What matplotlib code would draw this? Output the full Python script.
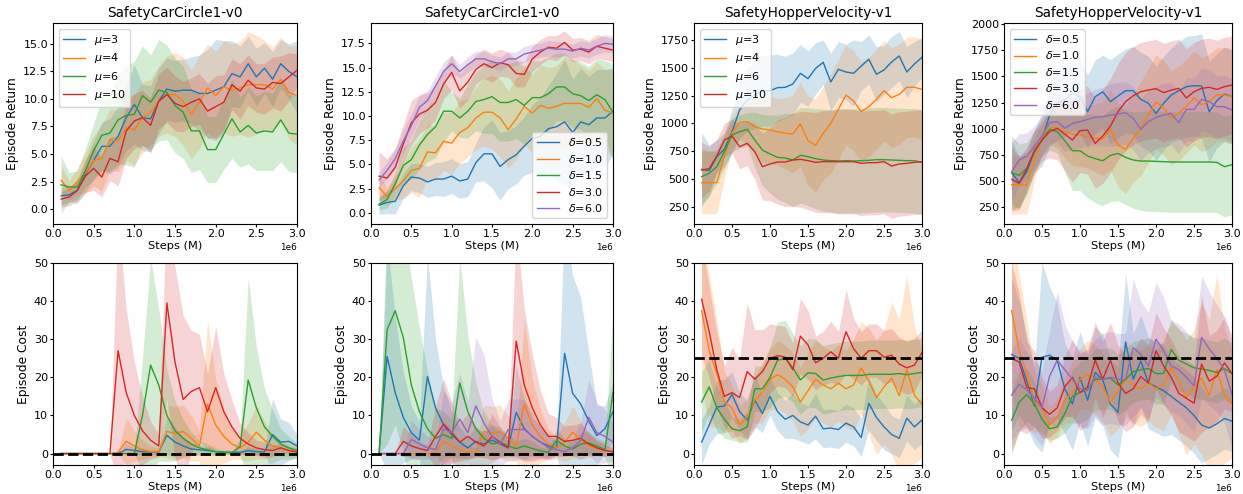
import numpy as np
import matplotlib
matplotlib.use("Agg")
import matplotlib.pyplot as plt  # noqa: E402

# x axis: evaluation points every 0.1M steps
steps = np.arange(1, 31) * 1e5

mu_labels = [r"$\mu$=3", r"$\mu$=4", r"$\mu$=6", r"$\mu$=10"]
delta_labels = [r"$\delta$=0.5", r"$\delta$=1.0", r"$\delta$=1.5", r"$\delta$=3.0", r"$\delta$=6.0"]
mu_colors = ["tab:blue", "tab:orange", "tab:green", "tab:red"]
delta_colors = ["tab:blue", "tab:orange", "tab:green", "tab:red", "tab:purple"]

# ---- SafetyCarCircle1-v0, episode return ----
car_ret_base = [2.6, 1.7, 2.5, 3.3, 4.4, 4.6, 6.3, 6.2, 7.4, 7.2, 8.3, 8.8, 9.8, 10.4, 10.4,
                9.8, 8.6, 9.7, 11.0, 10.3, 11.1, 10.8, 11.0, 11.3, 11.3, 11.3, 10.9, 11.8, 10.6, 10.3]
car_ret_base_sd = [1.3, 0.9, 1.2, 1.8, 2.3, 3.0, 2.8, 2.8, 3.0, 3.2, 3.2, 3.0, 3.2, 3.5, 3.8,
                   4.0, 4.0, 4.2, 4.0, 4.0, 4.2, 4.2, 4.2, 4.8, 4.5, 4.0, 3.8, 3.8, 4.2, 4.5]

car_ret_mu = [
    [1.2, 1.3, 1.7, 3.2, 4.4, 5.7, 5.7, 6.6, 8.3, 9.5, 8.3, 8.2, 9.8, 10.9, 10.7,
     10.8, 10.8, 10.5, 10.5, 10.8, 11.1, 12.3, 12.0, 13.2, 12.0, 12.8, 11.8, 13.2, 12.5, 12.0],
    car_ret_base,
    [2.2, 2.0, 2.0, 3.5, 5.3, 6.7, 6.9, 8.1, 8.5, 8.6, 10.3, 9.7, 10.8, 10.6, 9.4,
     8.8, 7.1, 7.1, 5.4, 5.4, 6.8, 8.2, 7.0, 7.6, 6.9, 7.1, 7.0, 8.1, 6.9, 6.8],
    [0.9, 1.1, 1.7, 3.0, 3.7, 2.9, 4.6, 4.3, 7.1, 8.0, 8.3, 7.6, 9.8, 10.4, 9.6,
     9.3, 9.7, 10.0, 8.9, 9.3, 9.7, 11.3, 10.7, 11.7, 11.0, 10.9, 11.5, 11.4, 12.0, 12.6],
]
car_ret_mu_sd = [
    [0.8, 0.7, 0.8, 1.2, 1.8, 2.2, 2.5, 2.8, 3.0, 3.6, 3.0, 3.0, 3.0, 2.8, 2.8,
     2.8, 3.0, 3.5, 4.0, 4.6, 4.2, 3.0, 2.8, 2.5, 2.6, 2.3, 2.5, 2.2, 2.5, 3.3],
    car_ret_base_sd,
    [2.6, 1.3, 1.5, 2.0, 2.5, 3.2, 3.5, 4.0, 4.5, 4.8, 4.5, 4.3, 4.6, 4.3, 4.3,
     4.2, 3.8, 3.5, 3.0, 3.0, 3.2, 3.6, 3.2, 3.5, 3.4, 3.6, 3.5, 3.8, 3.5, 3.5],
    [0.7, 0.8, 1.0, 1.5, 2.0, 1.8, 2.0, 2.2, 2.5, 2.5, 2.5, 2.5, 2.5, 2.5, 2.5,
     2.3, 2.2, 2.3, 2.5, 2.8, 2.5, 2.3, 2.5, 2.3, 2.2, 2.3, 2.3, 2.5, 2.2, 1.5],
]

car_ret_delta = [
    [0.8, 1.1, 1.2, 2.8, 3.7, 3.6, 3.2, 3.5, 3.5, 3.8, 3.3, 3.5, 5.2, 6.1, 6.1,
     4.8, 5.5, 6.0, 6.9, 7.7, 7.9, 8.7, 8.9, 9.4, 8.3, 9.4, 9.1, 9.8, 9.8, 10.5],
    car_ret_base,
    [0.9, 1.4, 3.0, 4.9, 5.5, 7.0, 8.1, 8.9, 10.5, 10.5, 9.8, 10.5, 11.5, 11.7, 12.0,
     11.4, 11.4, 11.7, 11.1, 11.9, 11.9, 12.3, 13.0, 13.0, 12.3, 12.1, 11.6, 12.2, 11.7, 10.4],
    [3.8, 3.6, 4.7, 7.1, 9.3, 10.2, 10.6, 11.4, 13.3, 14.5, 12.6, 13.5, 14.8, 15.4, 15.0,
     15.5, 15.3, 14.4, 14.3, 15.9, 16.6, 17.1, 17.0, 17.6, 16.8, 16.9, 16.6, 17.2, 17.0, 16.8],
    [3.4, 4.4, 5.6, 7.4, 9.0, 10.9, 11.6, 13.1, 14.6, 15.4, 14.6, 15.3, 15.9, 15.9, 15.6,
     15.4, 15.9, 15.9, 16.4, 16.6, 16.8, 17.0, 16.9, 16.9, 16.7, 17.0, 16.8, 17.2, 17.5, 17.4],
]
car_ret_delta_sd = [
    [0.9, 1.2, 1.3, 1.3, 1.4, 1.5, 1.6, 1.7, 1.8, 1.8, 1.8, 1.8, 2.0, 2.8, 3.5,
     3.5, 3.0, 3.0, 3.0, 3.5, 4.0, 4.5, 5.5, 6.5, 5.5, 5.5, 5.0, 5.0, 5.0, 4.5],
    car_ret_base_sd,
    [0.6, 0.9, 1.2, 1.8, 2.0, 2.5, 2.8, 3.2, 3.2, 2.0, 2.0, 2.8, 3.0, 3.5, 3.8,
     4.0, 4.0, 4.0, 4.0, 3.8, 3.8, 3.8, 3.5, 3.5, 3.5, 3.5, 3.5, 3.8, 4.0, 5.0],
    [2.5, 2.0, 2.0, 2.0, 2.3, 2.0, 1.8, 1.8, 1.5, 1.8, 1.8, 1.8, 1.5, 1.5, 1.5,
     1.4, 1.3, 1.4, 1.3, 1.3, 1.3, 1.2, 1.3, 1.2, 1.2, 1.2, 1.2, 1.2, 1.2, 1.2],
    [0.8, 0.9, 1.0, 1.2, 1.2, 1.2, 1.0, 1.0, 1.0, 0.9, 0.7, 0.8, 0.8, 0.8, 0.7,
     0.7, 0.7, 0.7, 0.8, 0.8, 0.7, 0.8, 0.8, 0.7, 0.7, 0.8, 0.8, 0.8, 0.9, 0.9],
]

# ---- SafetyHopperVelocity-v1, episode return ----
hop_ret_base = [466, 466, 466, 706, 916, 1006, 1015, 970, 949, 940, 925, 910, 904, 994, 844,
                802, 910, 1000, 1126, 1255, 1201, 1105, 1150, 1216, 1294, 1231, 1261, 1324, 1324, 1306]
hop_ret_base_sd = [280, 280, 280, 200, 150, 150, 200, 250, 300, 300, 300, 320, 350, 380, 400,
                   420, 420, 450, 450, 450, 450, 450, 450, 450, 450, 450, 450, 450, 450, 450]

hop_ret_mu = [
    [586, 574, 700, 766, 925, 1120, 1210, 1255, 1294, 1294, 1321, 1324, 1354, 1450, 1402,
     1495, 1549, 1372, 1486, 1462, 1450, 1516, 1576, 1441, 1480, 1552, 1606, 1462, 1534, 1594],
    hop_ret_base,
    [520, 550, 610, 745, 895, 925, 946, 850, 760, 724, 694, 688, 670, 712, 700,
     682, 670, 664, 661, 664, 661, 664, 667, 673, 673, 670, 667, 664, 664, 649],
    [580, 592, 706, 850, 886, 790, 820, 745, 610, 634, 652, 652, 670, 676, 664,
     649, 655, 655, 655, 655, 655, 640, 646, 646, 655, 616, 634, 640, 649, 655],
]
hop_ret_mu_sd = [
    [330, 230, 150, 150, 200, 250, 280, 300, 320, 320, 300, 280, 280, 260, 250,
     230, 200, 260, 250, 250, 300, 220, 220, 250, 220, 230, 220, 230, 200, 180],
    hop_ret_base_sd,
    [250, 200, 150, 150, 150, 150, 150, 250, 320, 350, 380, 400, 420, 430, 440,
     450, 460, 460, 470, 470, 470, 470, 470, 470, 470, 470, 470, 470, 470, 470],
    [250, 200, 150, 150, 150, 200, 200, 250, 300, 330, 380, 400, 420, 430, 440,
     450, 460, 460, 470, 470, 470, 470, 470, 470, 470, 470, 470, 470, 470, 470],
]

hop_ret_delta = [
    [581, 485, 590, 781, 893, 1131, 1243, 1275, 1338, 1306, 1163, 1306, 1354, 1259, 1313,
     1364, 1364, 1281, 1243, 1147, 1243, 1322, 1364, 1402, 1411, 1408, 1163, 1268, 1332, 1306],
    hop_ret_base,
    [581, 555, 622, 781, 893, 995, 972, 886, 791, 791, 740, 715, 695, 746, 765,
     727, 702, 692, 692, 689, 686, 683, 683, 683, 683, 683, 683, 680, 638, 657],
    [517, 479, 622, 791, 893, 972, 1004, 950, 893, 982, 988, 861, 931, 1026, 1163,
     1259, 1316, 1354, 1370, 1383, 1345, 1370, 1386, 1294, 1354, 1386, 1396, 1376, 1402, 1418],
    [590, 702, 740, 829, 931, 1058, 1068, 1004, 1052, 1068, 1090, 1109, 1115, 1131, 1141,
     1154, 1100, 995, 1068, 1109, 1131, 1147, 1058, 1185, 1185, 1281, 1259, 1211, 1211, 1179],
]
hop_ret_delta_sd = [
    [300, 250, 200, 200, 250, 300, 350, 350, 350, 350, 350, 350, 350, 400, 400,
     400, 420, 450, 450, 450, 450, 450, 470, 480, 480, 500, 480, 450, 450, 450],
    hop_ret_base_sd,
    [350, 300, 250, 200, 150, 200, 200, 300, 380, 380, 400, 420, 430, 440, 450,
     450, 460, 470, 480, 480, 480, 480, 480, 480, 480, 480, 480, 480, 480, 480],
    [300, 250, 200, 200, 200, 250, 300, 350, 400, 400, 420, 430, 450, 450, 460,
     470, 470, 470, 470, 470, 470, 470, 470, 470, 470, 470, 470, 470, 470, 470],
    [280, 250, 220, 200, 200, 200, 200, 220, 250, 250, 250, 270, 280, 300, 300,
     300, 300, 300, 300, 300, 300, 300, 300, 300, 300, 300, 300, 300, 300, 300],
]

# ---- SafetyCarCircle1-v0, episode cost ----
car_cost_base = [0, 0, 0, 0, 0, 0, 0, 0.3, 3.2, 2.0, 1.0, 0.5, 0.4, 5.8, 5.3,
                 5.8, 4.0, 2.0, 13.0, 7.5, 4.5, 2.5, 1.5, 3.0, 5.6, 3.5, 2.0, 1.3, 0.8, 0.5]
car_cost_base_sd = [0, 0, 0, 0, 0, 0, 0, 0.5, 6.0, 4.0, 2.5, 1.5, 1.0, 7.0, 7.0,
                    7.0, 6.0, 4.0, 22.0, 12.0, 7.0, 4.0, 3.0, 5.0, 7.0, 5.0, 3.0, 2.0, 1.5, 1.0]

car_cost_mu = [
    [0, 0, 0, 0, 0, 0, 0, 0, 1.1, 0.8, 0.5, 0.4, 0.4, 4.8, 3.0,
     2.0, 1.2, 1.0, 0.8, 0.5, 0.4, 0.3, 0.3, 0.8, 0.5, 0.4, 5.0, 3.0, 3.2, 2.0],
    car_cost_base,
    [0, 0, 0, 0, 0, 0, 0, 0, 0, 0, 10.0, 23.2, 18.0, 10.0, 6.0,
     4.0, 2.5, 1.5, 1.0, 0.5, 0.3, 0.2, 1.8, 19.3, 12.0, 7.0, 4.5, 2.5, 1.5, 0.8],
    [0, 0, 0, 0, 0, 0, 0, 27.0, 16.0, 10.0, 6.0, 3.5, 2.0, 39.5, 24.0,
     14.2, 16.3, 17.3, 11.0, 17.3, 11.0, 7.0, 4.0, 2.5, 1.5, 1.0, 0.8, 1.5, 0.8, 0.4],
]
car_cost_mu_sd = [
    [0, 0, 0, 0, 0, 0, 0, 0, 1.5, 1.0, 0.8, 0.6, 0.6, 5.0, 4.0,
     2.5, 1.5, 1.2, 1.0, 0.8, 0.6, 0.5, 0.5, 1.0, 0.8, 0.6, 9.5, 6.0, 5.0, 3.0],
    car_cost_base_sd,
    [0, 0, 0, 0, 0, 0, 0, 0, 0, 0, 15.0, 28.0, 20.0, 12.0, 8.0,
     5.0, 3.0, 2.0, 1.5, 1.0, 0.5, 0.5, 2.0, 27.0, 16.0, 10.0, 7.0, 4.0, 3.0, 2.0],
    [0, 0, 0, 0, 0, 0, 0, 35.0, 22.0, 14.0, 9.0, 5.0, 3.0, 25.0, 25.0,
     22.0, 16.0, 14.0, 10.0, 16.0, 10.0, 7.0, 4.0, 3.0, 2.0, 2.0, 1.5, 1.0, 1.0, 1.0],
]

car_cost_delta = [
    [0, 25.5, 16.0, 9.5, 5.5, 3.5, 20.2, 12.0, 7.5, 5.0, 3.0, 1.5, 3.2, 2.5, 3.5,
     2.5, 1.5, 10.8, 6.5, 4.5, 3.0, 2.0, 1.5, 26.3, 15.8, 13.0, 8.5, 4.7, 6.5, 11.0],
    car_cost_base,
    [0, 32.5, 37.5, 30.5, 18.0, 11.0, 6.5, 4.0, 5.0, 4.0, 18.5, 11.0, 6.5, 4.0, 2.5,
     3.0, 2.0, 1.3, 2.0, 1.3, 0.7, 0.3, 3.5, 2.0, 1.2, 2.5, 2.8, 2.0, 1.0, 16.0],
    [0, 0, 0, 3.2, 2.0, 1.3, 0.8, 4.5, 7.7, 5.5, 3.0, 4.5, 3.0, 2.0, 4.5,
     3.0, 1.5, 29.5, 18.0, 12.0, 7.5, 4.5, 4.5, 3.2, 3.5, 4.0, 2.5, 1.5, 0.8, 0.5],
    [0, 0, 0, 0, 3.7, 2.5, 1.5, 1.0, 6.5, 5.5, 9.0, 5.5, 12.5, 8.0, 4.5,
     2.5, 6.3, 6.3, 6.3, 4.5, 3.0, 1.5, 1.0, 0.5, 1.5, 3.5, 9.5, 5.5, 4.5, 3.0],
]
car_cost_delta_sd = [
    [0, 30.0, 20.0, 12.0, 7.0, 5.0, 32.0, 18.0, 10.0, 6.0, 4.0, 3.0, 4.0, 3.0, 4.0,
     3.0, 2.0, 12.0, 8.0, 5.0, 4.0, 3.0, 2.0, 35.0, 31.0, 28.0, 18.0, 8.0, 6.0, 8.0],
    car_cost_base_sd,
    [0, 30.0, 30.0, 30.0, 28.0, 22.0, 15.0, 8.0, 6.0, 5.0, 33.0, 20.0, 12.0, 7.0, 5.0,
     4.0, 3.0, 2.0, 2.0, 2.0, 1.0, 1.0, 3.0, 2.0, 2.0, 3.0, 3.0, 2.0, 2.0, 22.0],
    [0, 0, 0, 4.0, 3.0, 2.0, 1.5, 8.0, 12.0, 8.0, 5.0, 6.0, 4.0, 3.0, 6.0,
     4.0, 2.0, 30.0, 20.0, 14.0, 9.0, 6.0, 5.0, 4.0, 4.0, 4.0, 3.0, 2.0, 1.5, 1.0],
    [0, 0, 0, 0, 5.0, 4.0, 3.0, 2.0, 10.0, 8.0, 12.0, 8.0, 18.0, 18.0, 10.0,
     6.0, 8.0, 8.0, 8.0, 6.0, 4.0, 3.0, 2.0, 1.0, 2.0, 5.0, 10.0, 8.0, 7.0, 5.0],
]

# ---- SafetyHopperVelocity-v1, episode cost ----
hop_cost_base = [37.5, 27.0, 21.0, 13.5, 12.0, 7.5, 9.5, 14.0, 16.0, 19.5, 20.7, 19.5, 17.5, 13.5, 16.5,
                 19.5, 18.0, 17.0, 18.5, 17.0, 18.0, 22.5, 19.0, 14.7, 17.5, 19.8, 15.2, 22.0, 15.3, 13.0]
hop_cost_base_sd = [20, 20, 14, 8, 6, 5, 5, 6, 8, 8, 9, 9, 9, 9, 10,
                    10, 10, 10, 10, 10, 12, 12, 14, 15, 15, 20, 20, 25, 18, 14]

hop_cost_mu = [
    [3.0, 7.5, 12.2, 12.5, 15.5, 11.0, 8.8, 14.0, 10.5, 15.0, 11.0, 9.0, 10.0, 8.3, 7.5,
     9.8, 6.5, 6.7, 6.3, 8.0, 7.0, 4.2, 13.2, 9.5, 7.0, 5.0, 4.0, 9.3, 7.0, 8.8],
    hop_cost_base,
    [13.5, 17.5, 12.0, 9.0, 6.5, 6.0, 7.0, 17.0, 17.0, 20.0, 24.5, 25.0, 22.5, 19.3, 21.2,
     21.0, 19.3, 19.8, 20.2, 20.5, 20.5, 20.5, 20.8, 20.8, 20.8, 20.8, 21.0, 20.7, 21.0, 21.3],
    [40.5, 32.0, 22.0, 15.0, 16.0, 14.7, 21.5, 19.5, 21.5, 25.0, 25.7, 25.3, 22.0, 30.8, 28.5,
     23.8, 25.0, 26.7, 25.0, 32.0, 27.5, 25.0, 27.0, 27.0, 25.3, 25.8, 23.5, 22.5, 23.2, 26.5],
]
hop_cost_mu_sd = [
    [6, 5, 7, 7, 6, 5, 5, 7, 5, 5, 5, 5, 6, 5, 5,
     6, 5, 5, 5, 5, 5, 5, 7, 6, 6, 5, 5, 6, 6, 6],
    hop_cost_base_sd,
    [8, 7, 6, 5, 3, 3, 4, 6, 6, 8, 10, 10, 9, 9, 9,
     9, 9, 9, 9, 9, 9, 9, 9, 9, 9, 9, 9, 9, 9, 9],
    [15, 12, 10, 8, 12, 10, 18, 13, 11, 9, 8, 8, 7, 10, 9,
     7, 7, 8, 7, 11, 8, 7, 7, 7, 7, 7, 7, 7, 7, 6],
]

hop_cost_delta = [
    [26.0, 25.0, 19.0, 12.5, 25.3, 25.8, 24.5, 17.0, 13.0, 20.0, 14.0, 21.3, 19.3, 13.0, 10.8,
     29.3, 19.5, 24.3, 18.5, 17.5, 16.5, 15.0, 13.5, 12.0, 10.0, 7.5, 6.7, 7.8, 9.2, 8.5],
    hop_cost_base,
    [8.7, 13.5, 15.5, 13.0, 9.0, 6.5, 7.0, 10.5, 15.0, 16.0, 17.0, 19.5, 19.5, 19.8, 18.0,
     19.5, 21.5, 22.0, 22.3, 21.0, 21.0, 27.3, 24.5, 23.5, 22.5, 22.2, 21.8, 21.3, 22.3, 21.0],
    [25.0, 24.0, 17.3, 17.0, 12.0, 10.3, 12.0, 17.5, 20.0, 16.0, 17.5, 24.5, 19.5, 24.5, 18.5,
     15.8, 17.0, 20.2, 18.5, 27.0, 23.0, 20.0, 15.8, 14.5, 13.2, 23.5, 19.0, 20.3, 23.8, 21.0],
    [15.3, 18.2, 16.7, 14.5, 12.0, 20.3, 24.5, 22.0, 19.5, 17.0, 16.5, 20.0, 19.5, 20.0, 19.5,
     19.5, 27.8, 26.0, 23.0, 30.0, 27.0, 23.0, 22.0, 20.0, 17.8, 30.5, 27.5, 25.0, 22.0, 15.5],
]
hop_cost_delta_sd = [
    [20, 15, 12, 10, 25, 18, 15, 12, 12, 12, 12, 12, 12, 12, 12,
     18, 12, 12, 12, 12, 12, 10, 10, 10, 10, 10, 8, 8, 8, 8],
    hop_cost_base_sd,
    [8, 8, 7, 6, 4, 3, 3, 5, 7, 8, 8, 8, 8, 8, 8,
     8, 8, 8, 8, 8, 8, 8, 8, 8, 8, 8, 8, 8, 8, 8],
    [25, 18, 12, 10, 8, 6, 6, 8, 10, 10, 10, 10, 10, 10, 10,
     10, 10, 10, 10, 10, 10, 10, 10, 10, 10, 18, 12, 12, 12, 10],
    [12, 12, 10, 10, 10, 12, 18, 12, 10, 10, 10, 10, 12, 12, 12,
     12, 18, 14, 14, 15, 14, 12, 12, 12, 12, 16, 15, 14, 14, 14],
]

TITLES = ["SafetyCarCircle1-v0", "SafetyCarCircle1-v0",
          "SafetyHopperVelocity-v1", "SafetyHopperVelocity-v1"]
COST_LIMITS = [0, 0, 25, 25]

# (means, sds, labels, colors, ylim, legend loc)
top = [(car_ret_mu, car_ret_mu_sd, mu_labels, mu_colors, (-1.36, 16.9), "upper left"),
       (car_ret_delta, car_ret_delta_sd, delta_labels, delta_colors, (-1.14, 19.6), "lower right"),
       (hop_ret_mu, hop_ret_mu_sd, mu_labels, mu_colors, (94, 1903), "upper left"),
       (hop_ret_delta, hop_ret_delta_sd, delta_labels, delta_colors, (91, 2010), "upper left")]
bottom = [(car_cost_mu, car_cost_mu_sd, mu_colors),
          (car_cost_delta, car_cost_delta_sd, delta_colors),
          (hop_cost_mu, hop_cost_mu_sd, mu_colors),
          (hop_cost_delta, hop_cost_delta_sd, delta_colors)]

W, H = 1243, 494
lefts = [53, 371, 694, 1004]
widths = [244, 242, 228, 228]


def draw(ax, means, sds, colors, labels=None):
    for i, (m, s, c) in enumerate(zip(means, sds, colors)):
        m, s = np.array(m, float), np.array(s, float)
        ax.fill_between(steps, m - s, m + s, color=c, alpha=0.2, lw=0)
        ax.plot(steps, m, color=c, lw=1.0, label=labels[i] if labels else None)


def style(ax):
    ax.set_xlim(0, 3e6)
    ax.set_xticks(np.arange(0, 3.01e6, 0.5e6))
    ax.tick_params(labelsize=8, length=2.4, pad=1.2)
    ax.xaxis.get_offset_text().set_fontsize(6.4)
    ax.set_xlabel("Steps (M)", fontsize=8.2, labelpad=1.5)


fig = plt.figure(figsize=(W / 100, H / 100), dpi=100)
for j in range(4):
    ax = fig.add_axes([lefts[j] / W, 1 - 224 / H, widths[j] / W, 201 / H])
    means, sds, labels, colors, ylim, loc = top[j]
    draw(ax, means, sds, colors, labels)
    style(ax)
    ax.set_ylim(*ylim)
    ax.set_title(TITLES[j], fontsize=9.8, pad=4)
    ax.set_ylabel("Episode Return", fontsize=8.8, labelpad=3)
    ax.legend(loc=loc, fontsize=8, labelspacing=0.4)

    ax = fig.add_axes([lefts[j] / W, 1 - 465 / H, widths[j] / W, 202 / H])
    means, sds, colors = bottom[j]
    draw(ax, means, sds, colors)
    ax.axhline(COST_LIMITS[j], color="black", ls="--", lw=2, zorder=3)
    style(ax)
    ax.set_ylim(-3, 50)
    ax.set_ylabel("Episode Cost", fontsize=8.8, labelpad=3)

fig.savefig("out.png", dpi=100)
